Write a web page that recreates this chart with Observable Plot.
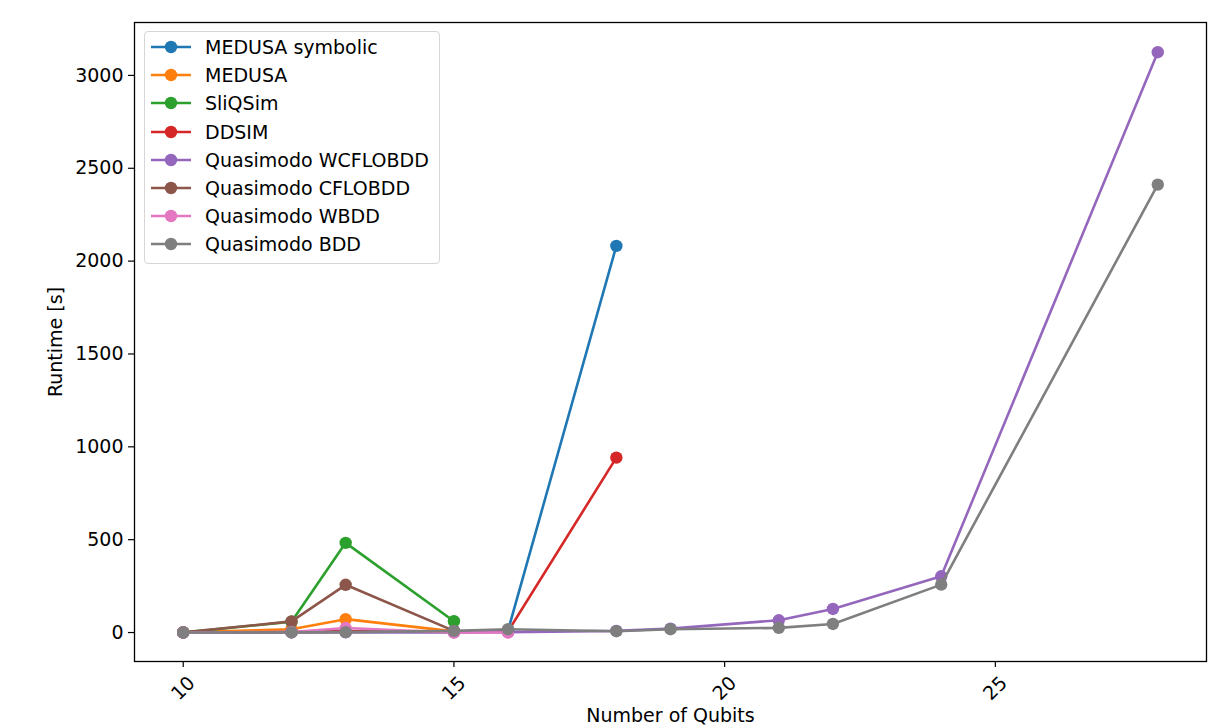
<!DOCTYPE html>
<html><head><meta charset="utf-8">
<script src="https://cdn.jsdelivr.net/npm/d3@7"></script>
<script src="https://cdn.jsdelivr.net/npm/@observablehq/plot@0.6"></script>
<style>
body{margin:0;background:#fff;font-family:"DejaVu Sans",sans-serif;}
#wrap{position:relative;width:1226px;height:726px;overflow:hidden;}
#legend{position:absolute;left:144px;top:31px;width:296px;height:233px;border:1px solid #d6d6d6;border-radius:4px;background:rgba(255,255,255,0.8);box-sizing:border-box;}
.row{position:absolute;left:0;height:28px;display:flex;align-items:center;font-size:19px;color:#000;white-space:nowrap;}
.row svg{margin-left:5px;margin-right:13px;}
</style></head><body>
<div id="wrap"><div id="chart"></div><div id="legend"></div></div>
<script>
const seriesNames = ["MEDUSA symbolic","MEDUSA","SliQSim","DDSIM","Quasimodo WCFLOBDD","Quasimodo CFLOBDD","Quasimodo WBDD","Quasimodo BDD"];
const seriesColors = ["#1f77b4","#ff7f0e","#2ca02c","#d62728","#9467bd","#8c564b","#e377c2","#7f7f7f"];

const xMedusaSym = [10,12,13,15,16,18];
const yMedusaSym = [0.5,3,8,4,12,2082];
const xMedusa = [10,12,13,15];
const yMedusa = [1,18,72,6];
const xSliQSim = [10,12,13,15];
const ySliQSim = [0.5,58,483,61];
const xDDSIM = [10,12,13,15,16,18];
const yDDSIM = [0.3,2,6,3,6,942];
const xWCFLOBDD = [10,12,13,15,16,18,19,21,22,24,28];
const yWCFLOBDD = [0.2,0.5,1,1,2,9,21,66,127,303,3125];
const xCFLOBDD = [10,12,13,15];
const yCFLOBDD = [1,60,257,9];
const xWBDD = [10,12,13,15,16];
const yWBDD = [0,3,24,0,0];
const xBDD = [10,12,13,15,16,18,19,21,22,24,28];
const yBDD = [0,1,2,9,18,7,18,25,46,258,2412];

const xTicks = [10,15,20,25];
const yTicks = [0,500,1000,1500,2000,2500,3000];

const seriesX = [xMedusaSym,xMedusa,xSliQSim,xDDSIM,xWCFLOBDD,xCFLOBDD,xWBDD,xBDD];
const seriesY = [yMedusaSym,yMedusa,ySliQSim,yDDSIM,yWCFLOBDD,yCFLOBDD,yWBDD,yBDD];

const font = "'DejaVu Sans', sans-serif";
const fs = 19;

const seriesMarks = [];
seriesNames.forEach((name, i) => {
  const data = seriesX[i].map((x, j) => ({x, y: seriesY[i][j]}));
  seriesMarks.push(Plot.line(data, {x: "x", y: "y", stroke: seriesColors[i], strokeWidth: 2.6}));
  seriesMarks.push(Plot.dot(data, {x: "x", y: "y", fill: seriesColors[i], r: 6.2}));
});

const chart = Plot.plot({
  width: 1226,
  height: 726,
  marginLeft: 134,
  marginRight: 20,
  marginTop: 22,
  marginBottom: 65,
  style: {fontFamily: font, fontSize: fs + "px", color: "black", background: "white", overflow: "hidden"},
  x: {domain: [9.1, 28.9]},
  y: {domain: [-156, 3285]},
  marks: [
    Plot.axisY({ticks: yTicks, tickSize: 6, tickPadding: 5, tickFormat: d => String(d), label: null, fontSize: fs, strokeWidth: 1.2}),
    Plot.axisX({ticks: xTicks, tickSize: 6, tickFormat: () => "", label: null, strokeWidth: 1.2}),
    Plot.text(xTicks, {x: d => d, frameAnchor: "bottom", dy: 27, rotate: -45, textAnchor: "middle", lineAnchor: "middle", text: d => String(d), fontSize: fs}),
    Plot.text(["Number of Qubits"], {frameAnchor: "bottom", dy: 47, lineAnchor: "top", fontSize: fs}),
    Plot.text(["Runtime [s]"], {frameAnchor: "left", dx: -79, rotate: -90, textAnchor: "middle", lineAnchor: "middle", fontSize: fs}),
    ...seriesMarks,
    Plot.frame({stroke: "black", strokeWidth: 1.3})
  ]
});
document.getElementById("chart").appendChild(chart);

const legend = document.getElementById("legend");
seriesNames.forEach((name, i) => {
  const row = document.createElement("div");
  row.className = "row";
  row.style.top = (1 + i * 28.2) + "px";
  row.innerHTML = `<svg width="42" height="16"><line x1="1" x2="41" y1="8" y2="8" stroke="${seriesColors[i]}" stroke-width="2.6"/><circle cx="21" cy="8" r="6.2" fill="${seriesColors[i]}"/></svg><span>${name}</span>`;
  legend.appendChild(row);
});
</script>
</body></html>
